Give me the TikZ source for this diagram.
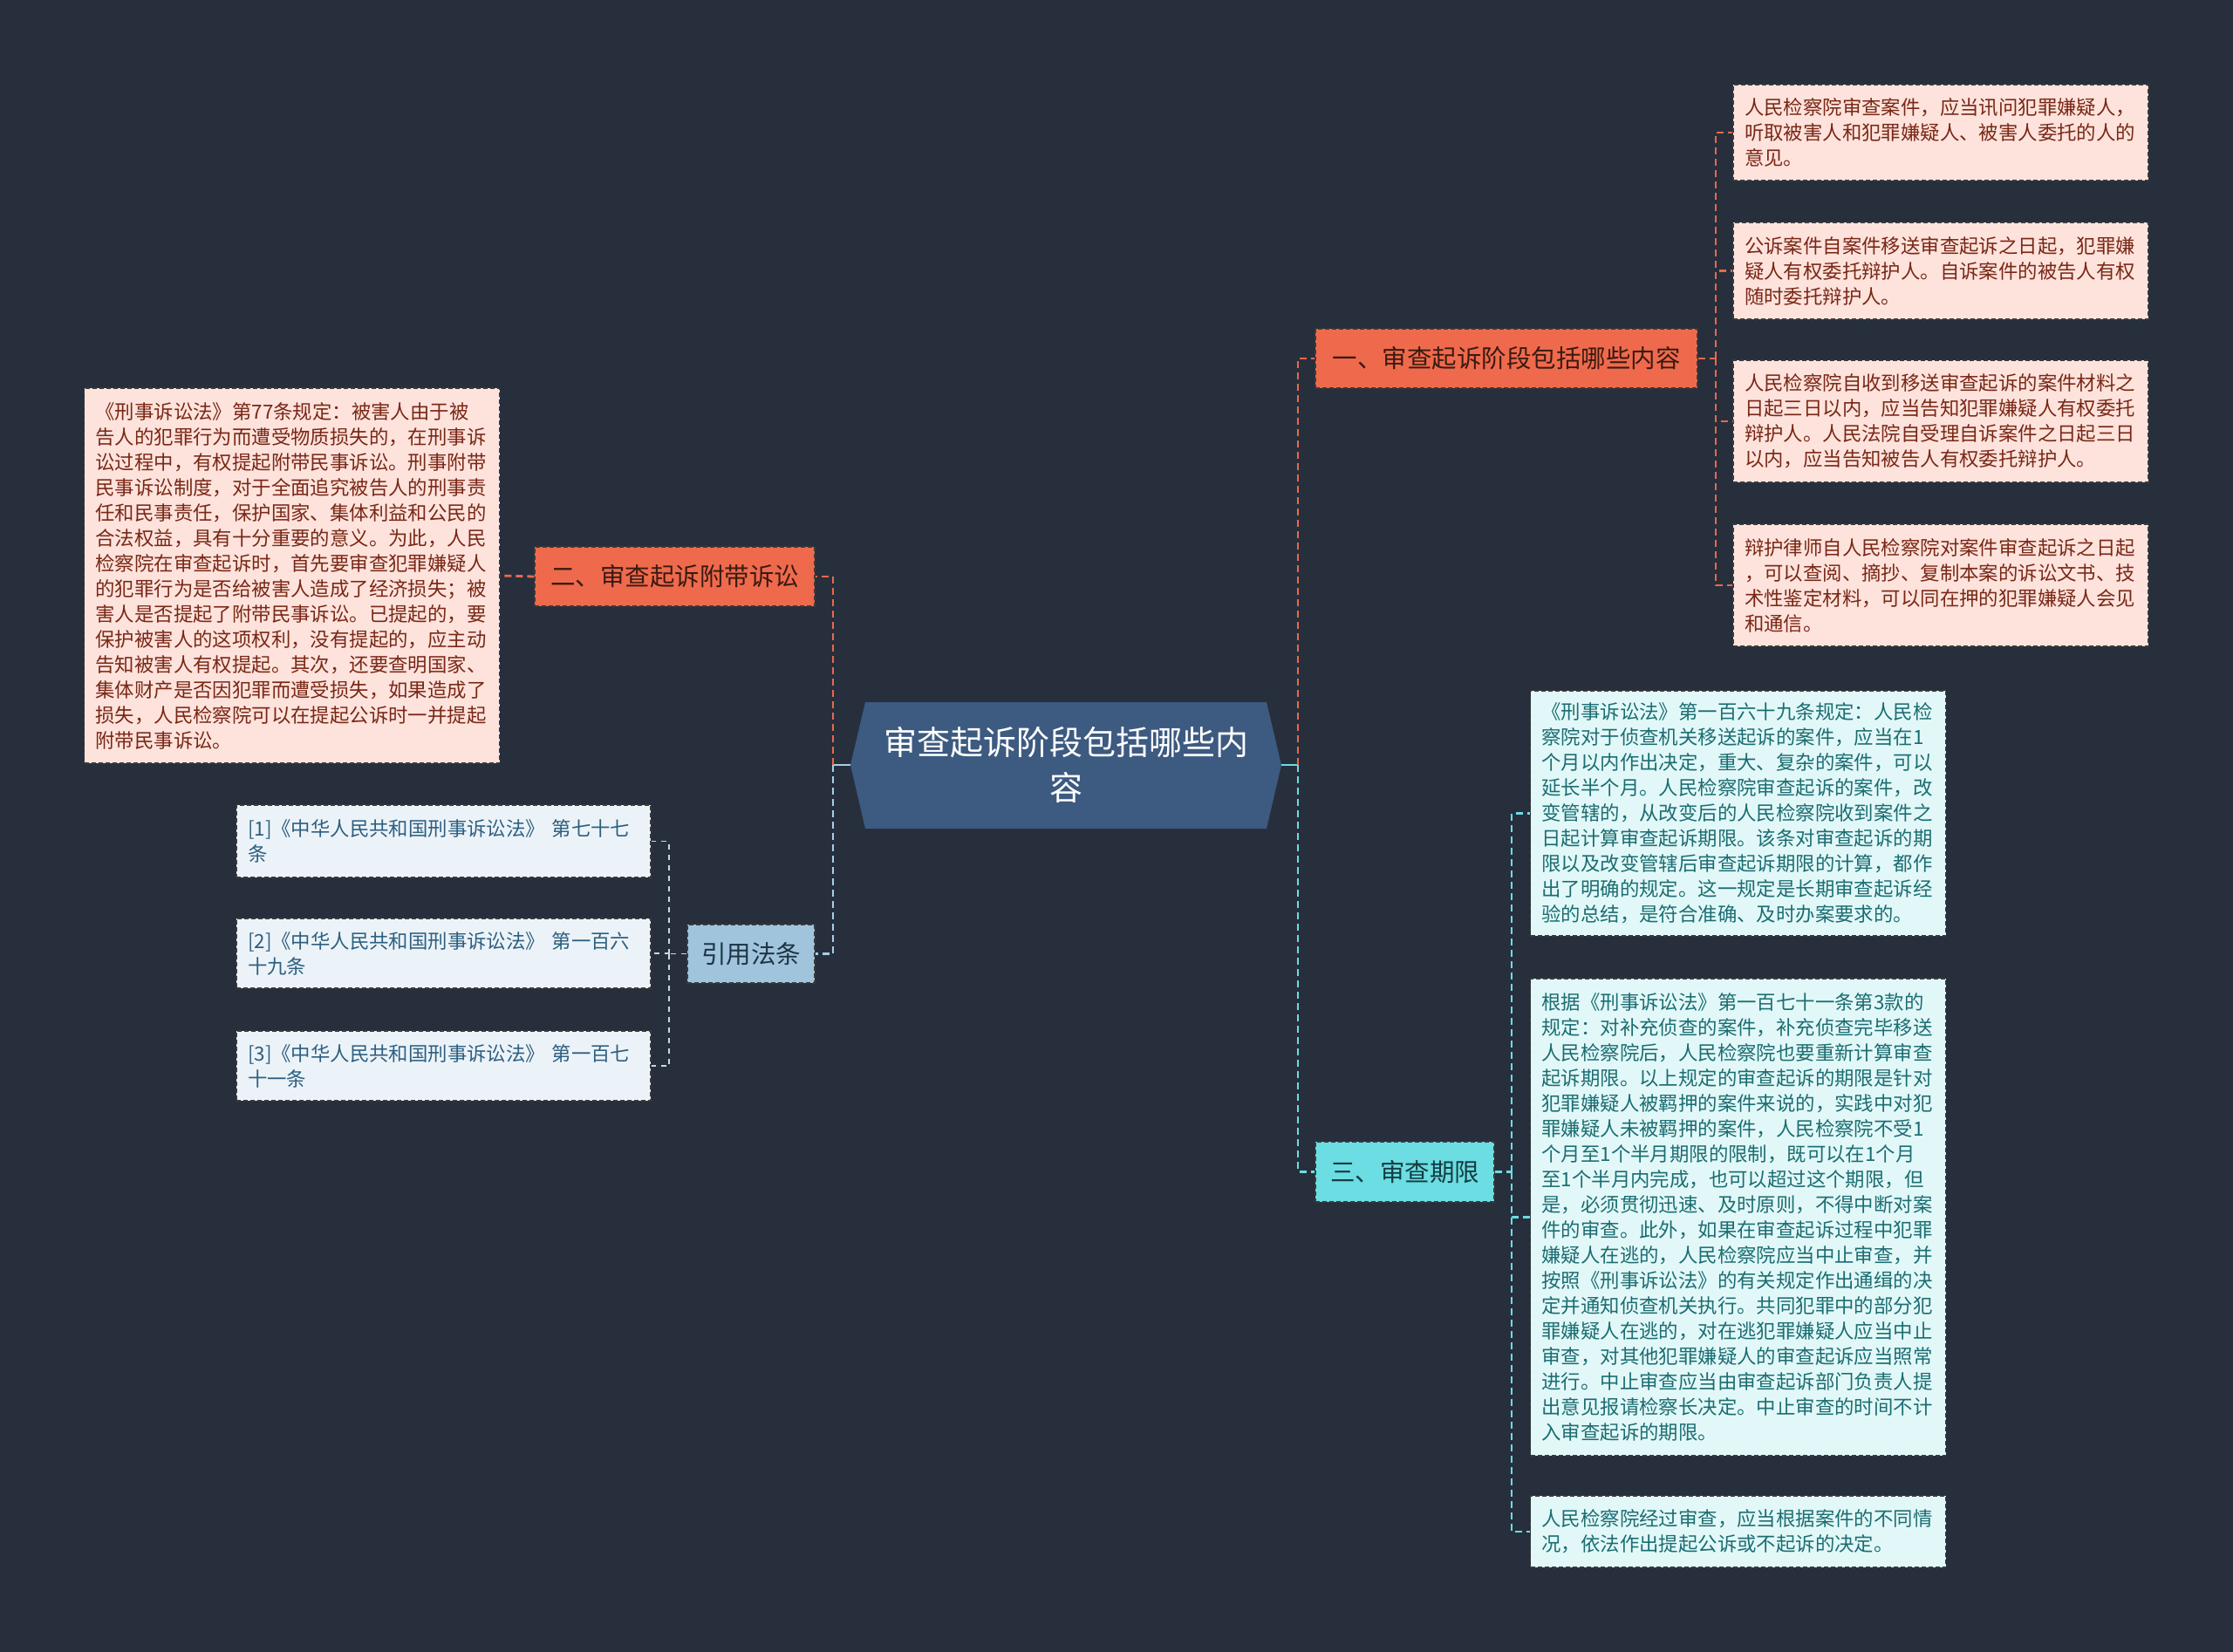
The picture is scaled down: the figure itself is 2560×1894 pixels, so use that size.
\documentclass[tikz,border=0pt]{standalone}
\usepackage{fontspec}
\setmainfont{Noto Sans CJK SC}
\usetikzlibrary{calc}
\newdimen\pxu \pxu=0.5pt
\definecolor{bgc}{HTML}{272F3D}
\definecolor{cfill}{HTML}{3D5A80}
\definecolor{orfill}{HTML}{EF6A4C}
\definecolor{ortext}{HTML}{3A1A12}
\definecolor{pkfill}{HTML}{FDE3DC}
\definecolor{pktext}{HTML}{7A2716}
\definecolor{cyfill}{HTML}{6BDDE3}
\definecolor{cytext}{HTML}{123C40}
\definecolor{lcfill}{HTML}{E2F8F8}
\definecolor{lctext}{HTML}{1B6D72}
\definecolor{rbfill}{HTML}{A0C4DC}
\definecolor{rbtext}{HTML}{1E3446}
\definecolor{rlfill}{HTML}{ECF3F8}
\definecolor{rltext}{HTML}{2D5F80}
\definecolor{orline}{HTML}{E8694C}
\definecolor{lbline}{HTML}{A8CFE4}
\definecolor{cyline}{HTML}{6BDDE3}
\definecolor{rlline}{HTML}{C8D8E4}
\definecolor{bord}{HTML}{3A3A3A}
\tikzset{
  boxbase/.style={rectangle, draw=bord, line width=0.7pt, dash pattern=on 2.5pt off 1.5pt, inner ysep=0pt},
  branchbox/.style={boxbase, inner xsep=0pt, align=center, font=\fontsize{14.25pt}{18pt}\selectfont},
  leafbox/.style={boxbase, inner xsep=13\pxu, align=left, text width=450\pxu, font=\fontsize{11.2pt}{14.5pt}\selectfont},
  pinkleaf/.style={leafbox, fill=pkfill, text=pktext},
  cyanleaf/.style={leafbox, fill=lcfill, text=lctext},
  refleaf/.style={leafbox, text width=449\pxu, fill=rlfill, text=rltext},
  conn/.style={line width=1.4pt, dash pattern=on 4pt off 2.5pt},
  stub/.style={line width=1.4pt},
  thinconn/.style={line width=0.8pt, dash pattern=on 3pt off 3pt},
}
\begin{document}
\begin{tikzpicture}[x=0.5pt,y=-0.5pt]
\useasboundingbox (0,0) rectangle (2560,1894);
\fill[bgc] (0,0) rectangle (2560,1894);

% central topic
\fill[cfill] (975,877) -- (992,805) -- (1452,805) -- (1469,877) -- (1452,950) -- (992,950) -- cycle;
\node[text=white, align=center, inner sep=0pt, minimum width=494\pxu, minimum height=145\pxu,
      font=\fontsize{19pt}{26pt}\selectfont] (c) at (1222,877) {审查起诉阶段包括哪些内\\容};

% branches
\node[branchbox, fill=orfill, text=ortext, minimum width=438\pxu, minimum height=68\pxu] (b1) at (1727,411) {一、审查起诉阶段包括哪些内容};
\node[branchbox, fill=cyfill, text=cytext, minimum width=205\pxu, minimum height=69\pxu] (b3) at (1610.5,1343.5) {三、审查期限};
\node[branchbox, fill=orfill, text=ortext, minimum width=321\pxu, minimum height=68\pxu] (b2) at (773.5,661) {二、审查起诉附带诉讼};
\node[branchbox, fill=rbfill, text=rbtext, minimum width=146\pxu, minimum height=67\pxu] (rb) at (861,1093.5) {引用法条};

% leaves of branch 1
\node[pinkleaf, minimum height=110\pxu] (a1) at (2225,152) {人民检察院审查案件，应当讯问犯罪嫌疑人，\\听取被害人和犯罪嫌疑人、被害人委托的人的\\意见。};
\node[pinkleaf, minimum height=111\pxu] (a2) at (2225,310.5) {公诉案件自案件移送审查起诉之日起，犯罪嫌\\疑人有权委托辩护人。自诉案件的被告人有权\\随时委托辩护人。};
\node[pinkleaf, minimum height=140\pxu] (a3) at (2225,483) {人民检察院自收到移送审查起诉的案件材料之\\日起三日以内，应当告知犯罪嫌疑人有权委托\\辩护人。人民法院自受理自诉案件之日起三日\\以内，应当告知被告人有权委托辩护人。};
\node[pinkleaf, minimum height=140\pxu] (a4) at (2225,671) {辩护律师自人民检察院对案件审查起诉之日起\\，可以查阅、摘抄、复制本案的诉讼文书、技\\术性鉴定材料，可以同在押的犯罪嫌疑人会见\\和通信。};

% leaf of branch 2
\node[pinkleaf, minimum height=430\pxu] (d1) at (334.5,660) {《刑事诉讼法》第77条规定：被害人由于被\\告人的犯罪行为而遭受物质损失的，在刑事诉\\讼过程中，有权提起附带民事诉讼。刑事附带\\民事诉讼制度，对于全面追究被告人的刑事责\\任和民事责任，保护国家、集体利益和公民的\\合法权益，具有十分重要的意义。为此，人民\\检察院在审查起诉时，首先要审查犯罪嫌疑人\\的犯罪行为是否给被害人造成了经济损失；被\\害人是否提起了附带民事诉讼。已提起的，要\\保护被害人的这项权利，没有提起的，应主动\\告知被害人有权提起。其次，还要查明国家、\\集体财产是否因犯罪而遭受损失，如果造成了\\损失，人民检察院可以在提起公诉时一并提起\\附带民事诉讼。};

% leaves of branch 3
\node[cyanleaf, minimum height=281\pxu] (e1) at (1992.5,932.5) {《刑事诉讼法》第一百六十九条规定：人民检\\察院对于侦查机关移送起诉的案件，应当在1\\个月以内作出决定，重大、复杂的案件，可以\\延长半个月。人民检察院审查起诉的案件，改\\变管辖的，从改变后的人民检察院收到案件之\\日起计算审查起诉期限。该条对审查起诉的期\\限以及改变管辖后审查起诉期限的计算，都作\\出了明确的规定。这一规定是长期审查起诉经\\验的总结，是符合准确、及时办案要求的。};
\node[cyanleaf, minimum height=547\pxu] (e2) at (1992.5,1395.5) {根据《刑事诉讼法》第一百七十一条第3款的\\规定：对补充侦查的案件，补充侦查完毕移送\\人民检察院后，人民检察院也要重新计算审查\\起诉期限。以上规定的审查起诉的期限是针对\\犯罪嫌疑人被羁押的案件来说的，实践中对犯\\罪嫌疑人未被羁押的案件，人民检察院不受1\\个月至1个半月期限的限制，既可以在1个月\\至1个半月内完成，也可以超过这个期限，但\\是，必须贯彻迅速、及时原则，不得中断对案\\件的审查。此外，如果在审查起诉过程中犯罪\\嫌疑人在逃的，人民检察院应当中止审查，并\\按照《刑事诉讼法》的有关规定作出通缉的决\\定并通知侦查机关执行。共同犯罪中的部分犯\\罪嫌疑人在逃的，对在逃犯罪嫌疑人应当中止\\审查，对其他犯罪嫌疑人的审查起诉应当照常\\进行。中止审查应当由审查起诉部门负责人提\\出意见报请检察长决定。中止审查的时间不计\\入审查起诉的期限。};
\node[cyanleaf, minimum height=82\pxu] (e3) at (1992.5,1756) {人民检察院经过审查，应当根据案件的不同情\\况，依法作出提起公诉或不起诉的决定。};

% reference leaves
\node[refleaf, minimum height=83\pxu] (r1) at (508.5,964.5) {[1]《中华人民共和国刑事诉讼法》 第七十七\\条};
\node[refleaf, minimum height=80\pxu] (r2) at (508.5,1093) {[2]《中华人民共和国刑事诉讼法》 第一百六\\十九条};
\node[refleaf, minimum height=80\pxu] (r3) at (508.5,1222) {[3]《中华人民共和国刑事诉讼法》 第一百七\\十一条};

% junction coordinates
\coordinate (jr) at (1488,877);
\coordinate (jl) at (955,877);
\coordinate (j1) at (1967,411);
\coordinate (j3) at (1733,1343.5);
\coordinate (jref) at (767,1093.5);

% central connectors
\draw[stub, cyline] (c.east) -- (jr);
\draw[stub, lbline] (c.west) -- (jl);
\draw[conn, orline] (jr) |- (b1.west);
\draw[conn, cyline] (jr) |- (b3.west);
\draw[conn, orline] (jl) |- (b2.east);
\draw[conn, lbline] (jl) |- (rb.east);

% branch 1 leaves
\draw[conn, orline] (b1.east) -- (j1);
\foreach \n in {a1,a2,a3,a4} \draw[conn, orline] (j1) |- (\n.west);
% branch 2 leaf
\draw[conn, orline] (b2.west) -- (d1.east);
% branch 3 leaves
\draw[conn, cyline] (b3.east) -- (j3);
\foreach \n in {e1,e2,e3} \draw[conn, cyline] (j3) |- (\n.west);
% reference leaves
\draw[thinconn, rlline] (rb.west) -- (jref);
\foreach \n in {r1,r2,r3} \draw[thinconn, rlline] (jref) |- (\n.east);
\end{tikzpicture}
\end{document}
